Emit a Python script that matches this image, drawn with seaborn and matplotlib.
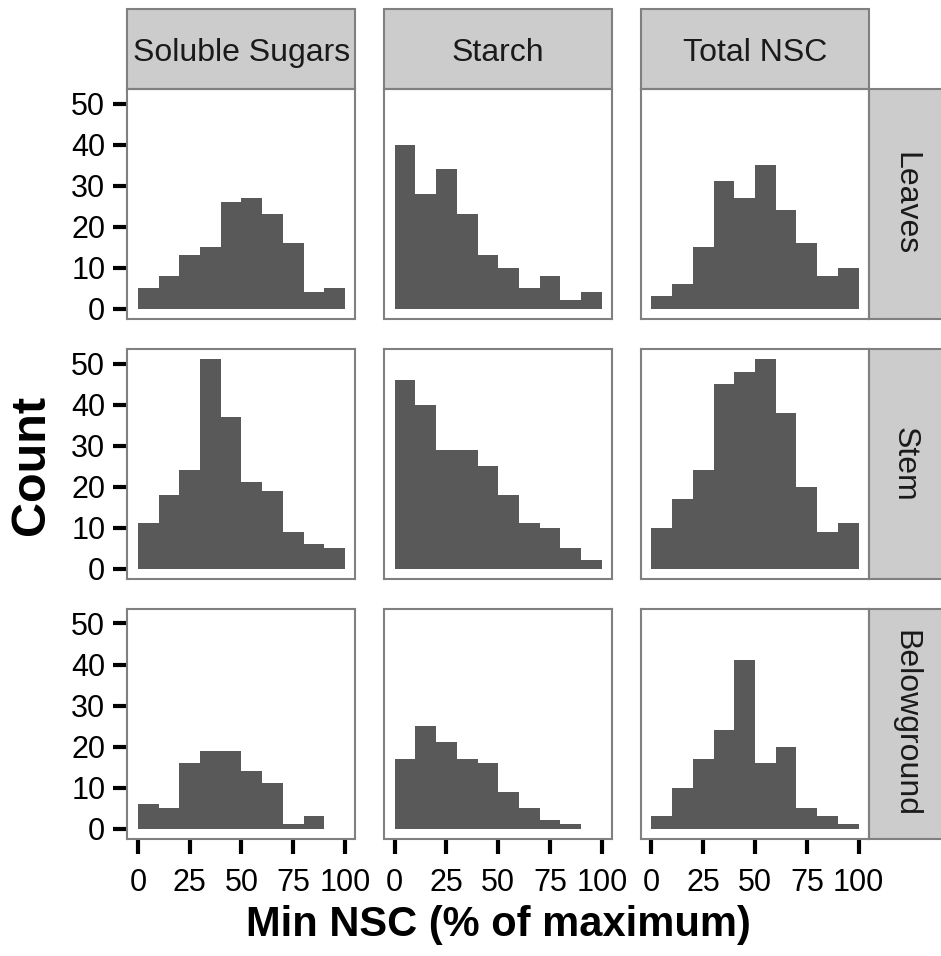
import numpy as np
import pandas as pd
import seaborn as sns
import matplotlib.pyplot as plt
from matplotlib.patches import Rectangle

# ---------------- data ----------------
compounds = ["Soluble Sugars", "Starch", "Total NSC"]
tissues = ["Leaves", "Stem", "Belowground"]
bin_edges = [0, 10, 20, 30, 40, 50, 60, 70, 80, 90, 100]
bin_centers = [5, 15, 25, 35, 45, 55, 65, 75, 85, 95]

sugars_leaves = [5, 8, 13, 15, 26, 27, 23, 16, 4, 5]
starch_leaves = [40, 28, 34, 23, 13, 10, 5, 8, 2, 4]
total_leaves = [3, 6, 15, 31, 27, 35, 24, 16, 8, 10]

sugars_stem = [11, 18, 24, 51, 37, 21, 19, 9, 6, 5]
starch_stem = [46, 40, 29, 29, 25, 18, 11, 10, 5, 2]
total_stem = [10, 17, 24, 45, 48, 51, 38, 20, 9, 11]

sugars_below = [6, 5, 16, 19, 19, 14, 11, 1, 3, 0]
starch_below = [17, 25, 21, 17, 16, 9, 5, 2, 1, 0]
total_below = [3, 10, 17, 24, 41, 16, 20, 5, 3, 1]

x_ticks = [0, 25, 50, 75, 100]
y_ticks = [0, 10, 20, 30, 40, 50]
x_label = "Min NSC (% of maximum)"
y_label = "Count"

series = {
    ("Leaves", "Soluble Sugars"): sugars_leaves,
    ("Leaves", "Starch"): starch_leaves,
    ("Leaves", "Total NSC"): total_leaves,
    ("Stem", "Soluble Sugars"): sugars_stem,
    ("Stem", "Starch"): starch_stem,
    ("Stem", "Total NSC"): total_stem,
    ("Belowground", "Soluble Sugars"): sugars_below,
    ("Belowground", "Starch"): starch_below,
    ("Belowground", "Total NSC"): total_below,
}
rows = []
for (tis, comp), counts in series.items():
    for c, n in zip(bin_centers, counts):
        rows.append({"tissue": tis, "compound": comp, "value": c, "count": n})
df = pd.DataFrame(rows)

# ---------------- style ----------------
sns.set_theme(style="ticks")
plt.rcParams["font.family"] = ["Liberation Sans", "DejaVu Sans"]

BAR = "#595959"
STRIP = "#cccccc"
BORDER = "#808080"

g = sns.FacetGrid(df, row="tissue", col="compound", row_order=tissues,
                  col_order=compounds, height=2.3, aspect=1, sharex=True,
                  sharey=True, despine=False)
g.map_dataframe(sns.histplot, x="value", weights="count", bins=bin_edges,
                color=BAR, alpha=1, edgecolor="none", linewidth=0)
g.set_axis_labels("", "")

fig = g.figure
fig.set_size_inches(9.41, 9.56)
fig.set_dpi(100)
W, H = 941, 956
fig.subplots_adjust(left=127.5 / W, right=869 / W, top=1 - 89 / H,
                    bottom=1 - 839 / H, wspace=0.127, hspace=0.13)

for i, tis in enumerate(tissues):
    for j, comp in enumerate(compounds):
        ax = g.axes[i, j]
        ax.set_title("")
        ax.set_facecolor("white")
        ax.set_xlim(-5, 105)
        ax.set_ylim(-2.55, 53.55)
        ax.set_xticks(x_ticks)
        ax.set_yticks(y_ticks)
        for sp in ax.spines.values():
            sp.set_color(BORDER)
            sp.set_linewidth(1.5)
            sp.set_visible(True)
        ax.tick_params(axis="y", length=10, width=3, color="black",
                       labelsize=22, labelcolor="black", pad=6)
        ax.tick_params(axis="x", length=11, width=3, color="black",
                       labelsize=22, labelcolor="black", pad=10)
        ax.tick_params(left=(j == 0), labelleft=(j == 0),
                       bottom=(i == 2), labelbottom=(i == 2))
        ax.set_xlabel("")
        ax.set_ylabel("")
        if i == 0:
            h = (89 - 9) / 230
            ax.add_patch(Rectangle((0, 1), 1, h, transform=ax.transAxes,
                                   clip_on=False, facecolor=STRIP,
                                   edgecolor=BORDER, linewidth=1.5))
            ax.text(0.5, 1 + h * 0.45, comp, transform=ax.transAxes,
                    ha="center", va="center", fontsize=23, color="#1a1a1a")
        if j == 2:
            w = 0.4
            ax.add_patch(Rectangle((1, 0), w, 1, transform=ax.transAxes,
                                   clip_on=False, facecolor=STRIP,
                                   edgecolor=BORDER, linewidth=1.5))
            ax.text(1 + 36 / 228, 0.5, tis, transform=ax.transAxes,
                    ha="center", va="center", rotation=270, fontsize=23,
                    color="#1a1a1a")

fig.text(32 / W, 1 - 465 / H, y_label, rotation=90, ha="center",
         va="center", fontsize=35, fontweight="bold", color="black")
fig.text(498 / W, 1 - 925 / H, x_label, ha="center", va="center",
         fontsize=30, fontweight="bold", color="black")

fig.savefig("out.png", dpi=100, facecolor="white")
